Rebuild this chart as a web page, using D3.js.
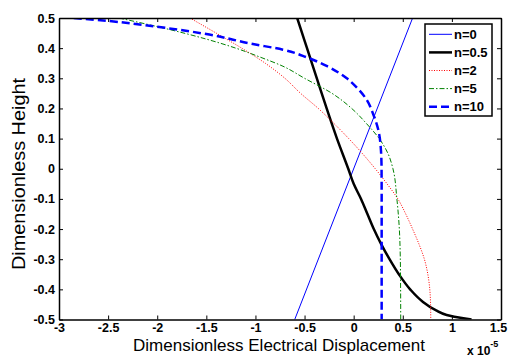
<!DOCTYPE html>
<html>
<head>
<meta charset="utf-8">
<script src="https://cdn.jsdelivr.net/npm/d3@7"></script>
<style>
  body { margin: 0; background: #fff; }
  svg { display: block; font-family: "Liberation Sans", Arial, sans-serif; }
</style>
</head>
<body>
<div id="main"></div>
<script>
const ctx = {
    WIDTH: 508,
    HEIGHT: 357
};

// tick values
const xTicks = [-3, -2.5, -2, -1.5, -1, -0.5, 0, 0.5, 1, 1.5];
const yTicks = [-0.5, -0.4, -0.3, -0.2, -0.1, 0, 0.1, 0.2, 0.3, 0.4, 0.5];

// series (displacement in units of 1e-5, against dimensionless height)
const labels = ["n=0", "n=0.5", "n=2", "n=5", "n=10"];

const hN0 = [-0.5, 0.5];
const dN0 = [-0.6, 0.6];

const hN05 = [0.5, 0.4, 0.3, 0.2, 0.1, 0.0, -0.05, -0.1, -0.15, -0.2, -0.25, -0.3, -0.35, -0.4, -0.44, -0.47, -0.485, -0.496, -0.5];
const dN05 = [-0.575, -0.475, -0.375, -0.275, -0.17, -0.055, 0.0, 0.075, 0.14, 0.205, 0.28, 0.365, 0.46, 0.575, 0.70, 0.84, 0.947, 1.117, 1.2];

const hN2 = [0.5, 0.45, 0.4, 0.35, 0.3, 0.25, 0.2, 0.15, 0.1, 0.05, 0.0, -0.05, -0.1, -0.15, -0.2, -0.25, -0.3, -0.35, -0.4, -0.45, -0.5];
const dN2 = [-1.667, -1.40, -1.14, -0.90, -0.70, -0.54, -0.36, -0.20, -0.05, 0.09, 0.22, 0.34, 0.45, 0.53, 0.60, 0.665, 0.72, 0.755, 0.775, 0.783, 0.785];

const hN5 = [0.5, 0.47, 0.43, 0.4, 0.37, 0.34, 0.3, 0.25, 0.2, 0.15, 0.1, 0.05, 0.0, -0.1, -0.2, -0.3, -0.4, -0.5];
const dN5 = [-2.39, -1.98, -1.50, -1.20, -0.95, -0.72, -0.50, -0.22, -0.02, 0.13, 0.26, 0.35, 0.40, 0.44, 0.465, 0.475, 0.478, 0.479];

const hN10 = [0.5, 0.49, 0.47, 0.445, 0.415, 0.395, 0.37, 0.34, 0.3, 0.27, 0.23, 0.18, 0.13, 0.06, 0.0, -0.1, -0.3, -0.5];
const dN10 = [-2.85, -2.49, -1.98, -1.47, -1.05, -0.72, -0.48, -0.27, -0.07, 0.03, 0.13, 0.20, 0.25, 0.278, 0.284, 0.285, 0.285, 0.285];

function populateSVGcanvas() {
  const svg = d3.select("#main svg");
  const left = 59, right = 501, top = 18, bottom = 319.5;

  const x = d3.scaleLinear().domain([-3, 1.5]).range([left, right]);
  const y = d3.scaleLinear().domain([-0.5, 0.5]).range([bottom, top]);

  const series = [
    {h: hN0,  d: dN0,  color: "#0000ff", width: 1,   dash: null},
    {h: hN05, d: dN05, color: "#000000", width: 2.5, dash: null},
    {h: hN2,  d: dN2,  color: "#ff0000", width: 1,   dash: "1,1.5"},
    {h: hN5,  d: dN5,  color: "#008000", width: 1,   dash: "5,2,1.5,2"},
    {h: hN10, d: dN10, color: "#0000ff", width: 2.5, dash: "8,4"}
  ];

  svg.append("defs").append("clipPath").attr("id", "plotclip")
    .append("rect")
    .attr("x", left).attr("y", top)
    .attr("width", right - left).attr("height", bottom - top);

  const line = d3.line()
      .x(p => x(p[0]))
      .y(p => y(p[1]))
      .curve(d3.curveMonotoneY);

  svg.append("g")
      .attr("clip-path", "url(#plotclip)")
      .selectAll("path")
      .data(series)
      .enter().append("path")
      .attr("d", s => line(s.d.map((v, i) => [v, s.h[i]])))
      .attr("fill", "none")
      .attr("stroke", s => s.color)
      .attr("stroke-width", s => s.width)
      .attr("stroke-dasharray", s => s.dash);

  const fmt = v => String(v);

  // axes, ticks pointing inward like MATLAB
  const gx = svg.append("g").attr("transform", `translate(0,${bottom})`)
      .call(d3.axisBottom(x).tickValues(xTicks).tickFormat(fmt)
        .tickSizeInner(-4).tickSizeOuter(0).tickPadding(3.6));
  const gy = svg.append("g").attr("transform", `translate(${left},0)`)
      .call(d3.axisLeft(y).tickValues(yTicks).tickFormat(fmt)
        .tickSizeInner(-4).tickSizeOuter(0).tickPadding(4));
  const gt = svg.append("g").attr("transform", `translate(0,${top})`)
      .call(d3.axisTop(x).tickValues(xTicks).tickFormat("")
        .tickSizeInner(-4).tickSizeOuter(0));
  const gr = svg.append("g").attr("transform", `translate(${right},0)`)
      .call(d3.axisRight(y).tickValues(yTicks).tickFormat("")
        .tickSizeInner(-4).tickSizeOuter(0));

  [gx, gy, gt, gr].forEach(g => {
    g.select(".domain").attr("stroke", "#000").attr("stroke-width", 1.5);
    g.selectAll(".tick line").attr("stroke", "#000").attr("stroke-width", 1);
    g.selectAll(".tick text")
      .attr("fill", "#000")
      .style("font-family", "'Liberation Sans', Arial, sans-serif")
      .style("font-size", "12.5px")
      .style("font-weight", "bold");
  });
  // last x label sits at the window edge, nudge it inside
  gx.selectAll(".tick text").filter(d => d === 1.5).attr("x", -3);

  // exponent label
  const ex = svg.append("text")
      .attr("x", 467).attr("y", 355)
      .style("font-size", "12px").style("font-weight", "bold");
  ex.append("tspan").text("x 10");
  ex.append("tspan").attr("dy", -8).style("font-size", "9px").text("-5");

  // axis titles
  svg.append("text")
      .attr("x", 279).attr("y", 351)
      .attr("text-anchor", "middle")
      .style("font-size", "17px")
      .text("Dimensionless Electrical Displacement");

  svg.append("text")
      .attr("transform", "translate(25,174) rotate(-90)")
      .attr("text-anchor", "middle")
      .attr("textLength", 192)
      .attr("lengthAdjust", "spacingAndGlyphs")
      .style("font-size", "18px")
      .text("Dimensionless Height");

  // legend
  const lg = svg.append("g");
  lg.append("rect")
      .attr("x", 425).attr("y", 24).attr("width", 67).attr("height", 92)
      .attr("fill", "#fff").attr("stroke", "#000").attr("stroke-width", 1.5);
  const item = lg.selectAll("g.item")
      .data(series)
      .enter().append("g")
      .attr("class", "item")
      .attr("transform", (d, i) => `translate(0,${34.3 + i * 18.1})`);
  item.append("line")
      .attr("x1", 429).attr("x2", 452)
      .attr("stroke", s => s.color)
      .attr("stroke-width", s => s.width)
      .attr("stroke-dasharray", s => s.dash);
  item.append("text")
      .attr("x", 454).attr("dy", "0.36em")
      .style("font-size", "13px").style("font-weight", "bold")
      .text((d, i) => labels[i]);
}

function createViz() {
  const svgEl = d3.select("#main").append("svg");
  svgEl.attr("width", ctx.WIDTH);
  svgEl.attr("height", ctx.HEIGHT);
  populateSVGcanvas();
}

createViz();
</script>
</body>
</html>
